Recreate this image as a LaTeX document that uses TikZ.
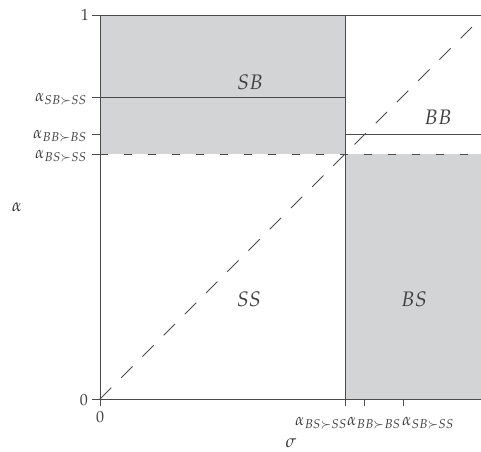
\documentclass[tikz,border=0pt]{standalone}
\usepackage{mathpazo}
\definecolor{regfill}{RGB}{211,212,214}
\definecolor{linecol}{RGB}{75,75,75}
\tikzset{
  region/.style={fill=regfill,draw=none},
  bound/.style={draw=linecol,line width=0.95pt},
  dashbound/.style={draw=linecol,line width=0.95pt,dash pattern=on 8pt off 16pt},
  diag/.style={draw=linecol,line width=0.95pt,dash pattern=on 16pt off 14pt},
  axisline/.style={draw=linecol,line width=1pt},
  tickmark/.style={draw=linecol,line width=0.95pt},
  reglabel/.style={text=black!75,font=\fontsize{21}{25}\selectfont,inner sep=0pt},
  ticklabel/.style={text=black!75,font=\fontsize{17}{20}\selectfont,inner sep=0pt},
  numlabel/.style={text=black!75,font=\fontsize{16}{19}\selectfont,inner sep=0pt},
  axlabel/.style={text=black!80,font=\fontsize{18}{22}\selectfont,inner sep=0pt}
}
\begin{document}
\begin{tikzpicture}[x=1pt,y=-1pt]
\useasboundingbox (0,0) rectangle (481,451);
\clip (0,0) rectangle (481,451);
% key coordinates
\coordinate (O) at (100,399);
\coordinate (TL) at (100,15);
\coordinate (TR) at (484,15);
\coordinate (BR) at (484,399);
\coordinate (midTop) at (345,15);
\coordinate (midBot) at (345,399);
\coordinate (lSB) at (100,97);
\coordinate (rSB) at (345,97);
\coordinate (lBB) at (345,134);
\coordinate (rBB) at (484,134);
\coordinate (lBS) at (100,154);
\coordinate (cBS) at (345,154);
\coordinate (rBS) at (484,154);
% regions
\fill[region] (TL) rectangle (cBS);
\fill[region] (cBS) rectangle (BR);
% boundaries
\draw[bound] (lSB) -- (rSB);
\draw[bound] (lBB) -- (rBB);
\draw[bound] (midTop) -- (midBot);
\draw[dashbound] (lBS) -- (rBS);
\draw[diag] (O) -- (TR);
% frame
\draw[axisline] (TL) -- (TR);
\draw[axisline] (TL) -- (O) -- (BR);
% y ticks
\foreach \yy in {15,97,134,154,399} \draw[tickmark] (92,\yy) -- (100,\yy);
% x ticks
\foreach \xx in {100,345,364,403,484} \draw[tickmark] (\xx,399) -- (\xx,406);
% tick labels
\node[numlabel,anchor=east] (y1) at (89,15) {$1$};
\node[numlabel,anchor=east] (y0) at (88,400) {$0$};
\node[ticklabel,anchor=base east] (ySB) at (87,101) {$\alpha_{SB\succ SS}$};
\node[ticklabel,anchor=base east] (yBB) at (87,138) {$\alpha_{BB\succ BS}$};
\node[ticklabel,anchor=base east] (yBS) at (87,158) {$\alpha_{BS\succ SS}$};
\node[numlabel,anchor=north] (x0) at (100,411) {$0$};
\node[numlabel,anchor=north] (x1) at (484,411) {$1$};
\node[ticklabel,anchor=base west] (xBS) at (295,425) {$\alpha_{BS\succ SS}$};
\node[ticklabel,anchor=base west] (xBB) at (347,425) {$\alpha_{BB\succ BS}$};
\node[ticklabel,anchor=base west] (xSB) at (402,425) {$\alpha_{SB\succ SS}$};
% axis labels
\node[axlabel] (alab) at (17,207) {$\alpha$};
\node[axlabel] (slab) at (291,443) {$\sigma$};
% region labels
\node[reglabel] (SB) at (250,82) {$SB$};
\node[reglabel] (BB) at (438,117) {$BB$};
\node[reglabel] (SS) at (249,299) {$SS$};
\node[reglabel] (BS) at (414,299) {$BS$};
\end{tikzpicture}
\end{document}
